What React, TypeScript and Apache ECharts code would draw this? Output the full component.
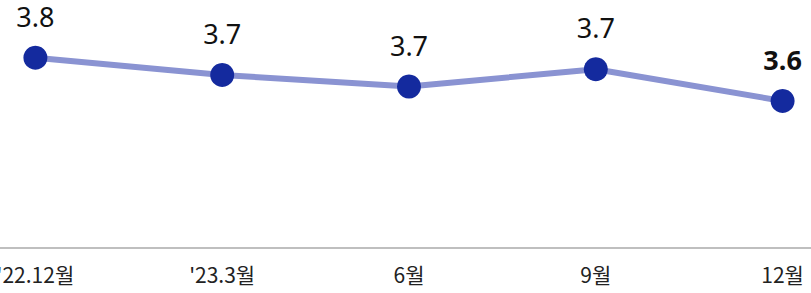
import React, { useEffect, useRef } from "react";
import * as echarts from "echarts";

const categories = ["'22.12월", "'23.3월", "6월", "9월", "12월"];
const values = [3.76, 3.7, 3.66, 3.72, 3.61];
const yMin = 3.1;
const yMax = 3.96;

export default function App() {
  const ref = useRef<HTMLDivElement>(null);
  useEffect(() => {
    if (!ref.current) return;
    const chart = echarts.init(ref.current, null, { renderer: "svg" });
    const last = values.length - 1;
    chart.setOption({
      animation: false,
      grid: { left: 0, right: 0, top: 0, bottom: 45 },
      xAxis: {
        type: "category",
        data: categories,
        boundaryGap: true,
        axisLine: { show: true, lineStyle: { color: "#aaaaaa", width: 1.5 } },
        axisTick: { show: false },
        axisLabel: {
          color: "#222222",
          fontSize: 21,
          fontFamily: "'Noto Sans CJK KR', 'Noto Sans', sans-serif",
          margin: 15,
        },
        splitLine: { show: false },
      },
      yAxis: {
        type: "value",
        min: yMin,
        max: yMax,
        show: false,
        splitLine: { show: false },
      },
      series: [
        {
          type: "line",
          data: values.map((v, i) => ({
            value: v,
            label: i === last ? { fontWeight: "bold" } : undefined,
          })),
          symbol: "circle",
          symbolSize: 24,
          lineStyle: { color: "#8a93d2", width: 6 },
          itemStyle: { color: "#142a9e" },
          label: {
            show: true,
            position: "top",
            distance: 16,
            color: "#111111",
            fontSize: 27,
            fontFamily: "'Noto Sans', sans-serif",
            formatter: (p: any) => Number(p.value).toFixed(1),
          },
        },
      ],
    });
    return () => chart.dispose();
  }, []);
  return (
    <div
      style={{
        position: "fixed",
        left: 0,
        top: 0,
        width: 811,
        height: 293,
        overflow: "hidden",
        background: "#ffffff",
      }}
    >
      <div
        ref={ref}
        style={{ position: "absolute", left: -58, top: 0, width: 934, height: 293 }}
      />
    </div>
  );
}
